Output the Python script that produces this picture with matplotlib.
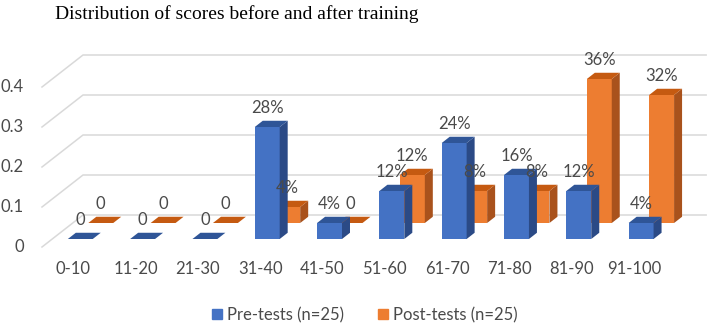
import matplotlib.pyplot as plt
from matplotlib.patches import Polygon
from matplotlib.lines import Line2D

plt.rcParams['font.family'] = ['Lato', 'DejaVu Sans']

categories = ['0-10', '11-20', '21-30', '31-40', '41-50',
              '51-60', '61-70', '71-80', '81-90', '91-100']
pre_tests = [0, 0, 0, 0.28, 0.04, 0.12, 0.24, 0.16, 0.12, 0.04]
post_tests = [0, 0, 0, 0.04, 0, 0.12, 0.08, 0.08, 0.36, 0.32]
y_ticks = [0, 0.1, 0.2, 0.3, 0.4]
y_tick_labels = ['0', '0.1', '0.2', '0.3', '0.4']
series_names = ['Pre-tests (n=25)', 'Post-tests (n=25)']

# fake 3d: depth vector in data units (category, value) per unit of depth
DX = 0.658
DY = 0.08
BAR_W = 0.40
BAR_SHIFT = -0.05
TEXT = '#4a4a4a'
GRID = '#d9d9d9'
FS = 12

fig = plt.figure(figsize=(7.08, 3.26), dpi=100)
ax = fig.add_axes([42 / 708, 79 / 326, 665.5 / 708, 240 / 326])
ax.set_xlim(-0.5, 10.18)
ax.set_ylim(0, 0.6)
ax.axis('off')

n = len(categories)

# walls: diagonal on the side wall + horizontal line on the back wall
for v in y_ticks:
    ax.plot([-0.5, -0.5 + DX, n - 0.5 + DX], [v, v + DY, v + DY],
            color=GRID, lw=1.1, zorder=0, clip_on=False)
for v, lab in zip(y_ticks, y_tick_labels):
    ax.text(-0.79, v, lab, ha='right', va='center', fontsize=FS,
            color=TEXT, clip_on=False)

for i, c in enumerate(categories):
    ax.text(i, -0.056, c, ha='center', va='center', fontsize=FS,
            color=TEXT, clip_on=False)


def draw_series(values, z0, z1, front, side, top, zbase):
    xs = [i + BAR_SHIFT + z0 * DX for i in range(n)]
    ax.bar(xs, values, width=BAR_W, bottom=z0 * DY, color=front,
           linewidth=0, zorder=zbase, clip_on=False)
    for i, v in enumerate(values):
        xl = i + BAR_SHIFT - BAR_W / 2
        xr = xl + BAR_W
        side_pts = [(xr + z0 * DX, z0 * DY), (xr + z0 * DX, v + z0 * DY),
                    (xr + z1 * DX, v + z1 * DY), (xr + z1 * DX, z1 * DY)]
        top_pts = [(xl + z0 * DX, v + z0 * DY), (xr + z0 * DX, v + z0 * DY),
                   (xr + z1 * DX, v + z1 * DY), (xl + z1 * DX, v + z1 * DY)]
        ax.add_patch(Polygon(side_pts, closed=True, facecolor=side,
                             linewidth=0, zorder=zbase, clip_on=False))
        ax.add_patch(Polygon(top_pts, closed=True, facecolor=top,
                             linewidth=0, zorder=zbase, clip_on=False))
        lab = '0' if v == 0 else f'{v:.0%}'
        ax.text(xs[i], v + z0 * DY + 0.047, lab, ha='center', va='center',
                fontsize=FS, color=TEXT, zorder=10, clip_on=False)


draw_series(post_tests, 0.75, 0.945, '#ed7d31', '#a9521c', '#c55a11', 2)
draw_series(pre_tests, 0.25, 0.445, '#4472c4', '#2b4a86', '#2f5597', 4)

fig.text(237 / 708, 1 - 14 / 326, 'Distribution of scores before and after training',
         ha='center', va='center', fontsize=14, family='Liberation Serif',
         color='black')

handles = [Line2D([], [], marker='s', linestyle='none', markersize=7,
                  color='#4472c4'),
           Line2D([], [], marker='s', linestyle='none', markersize=7,
                  color='#ed7d31')]
fig.legend(handles, series_names, loc='center', ncol=2, frameon=False,
           bbox_to_anchor=(363 / 708, 11 / 326), fontsize=FS,
           labelcolor=TEXT, handletextpad=0.1, columnspacing=1.8,
           handlelength=1.0)

fig.savefig('out.png', dpi=100)
